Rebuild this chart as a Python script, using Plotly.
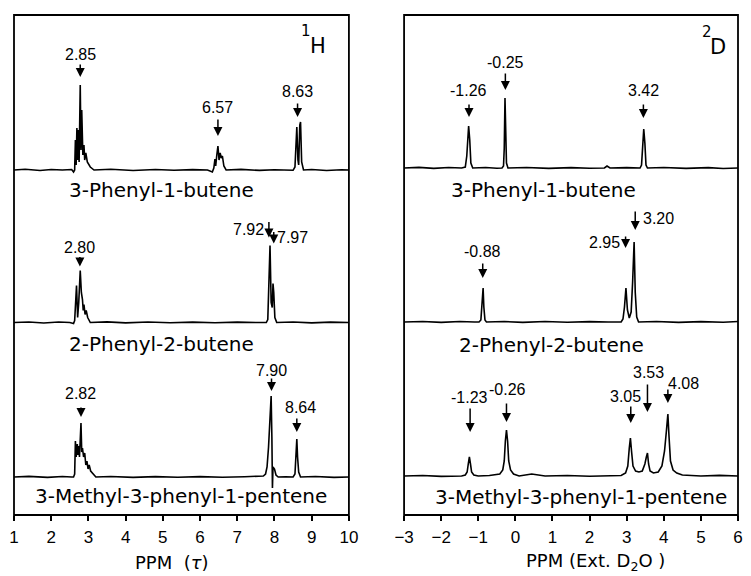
import plotly.graph_objects as go

# ---------------- data: spectra as (ppm, intensity) points ----------------
H1_PHENYL_BUTENE = [(1.0,0),(1.3,0.8),(1.7,-0.5),(2.0,0.5),(2.3,0),(2.55,0.5),(2.6,-2),(2.63,0),(2.65,30),(2.67,5),
    (2.69,42),(2.71,10),(2.73,40),(2.75,8),(2.78,85),(2.80,20),(2.82,60),(2.85,15),(2.88,25),(2.90,10),(2.93,17),
    (2.97,8),(3.05,3),(3.15,0),(3.6,0.8),(4.2,-0.5),(4.8,0.5),(5.3,-0.3),(5.8,0.4),(6.2,0),(6.33,-2),(6.37,2),
    (6.40,11),(6.42,4),(6.45,15),(6.48,24),(6.51,10),(6.54,17),(6.57,12),(6.60,14),(6.64,4),(6.70,0),(7.1,0.6),
    (7.6,-0.4),(8.0,0.3),(8.3,0),(8.5,-0.3),(8.55,3),(8.58,38),(8.60,43),(8.63,10),(8.65,5),(8.68,45),(8.70,48),
    (8.73,8),(8.78,0),(9.0,0.5),(9.4,-0.5),(9.8,0.3),(10.0,0)]
H1_PHENYL_2_BUTENE = [(1.0,0),(1.4,0.5),(1.8,-0.5),(2.2,0.5),(2.5,0),(2.6,-1),(2.63,2),(2.66,30),(2.68,37),(2.71,5),
    (2.74,20),(2.78,52),(2.81,30),(2.84,23),(2.86,12),(2.88,18),(2.91,8),(2.94,12),(2.98,5),(3.05,0),(3.5,0.6),
    (4.0,-0.4),(4.6,0.5),(5.2,-0.3),(5.8,0.4),(6.4,-0.3),(7.0,0.4),(7.5,0),(7.78,0),(7.82,3),(7.85,40),(7.88,77),
    (7.91,20),(7.94,15),(7.96,39),(7.98,30),(8.01,5),(8.06,0),(8.5,0.5),(9.0,-0.4),(9.5,0.4),(10.0,0)]
H1_METHYL_PENTENE = [(1.0,0),(1.4,0.6),(1.9,-0.4),(2.3,0.5),(2.55,0),(2.6,0),(2.63,3),(2.65,36),(2.67,20),(2.70,33),
    (2.72,22),(2.74,31),(2.76,20),(2.80,54),(2.82,25),(2.84,29),(2.87,20),(2.90,24),(2.93,12),(2.96,16),(2.99,8),
    (3.02,12),(3.06,6),(3.12,3),(3.2,0),(3.6,0.5),(4.2,-0.4),(4.8,0.4),(5.4,-0.3),(6.0,0.4),(6.6,-0.3),(7.2,0.3),
    (7.6,0.5),(7.7,1),(7.76,3),(7.80,10),(7.84,30),(7.88,60),(7.91,81),(7.93,40),(7.945,-11),(7.96,10),(8.0,8),
    (8.04,2),(8.1,0),(8.3,0.3),(8.5,0),(8.55,3),(8.58,20),(8.60,38),(8.62,20),(8.65,5),(8.7,0),(9.1,0.5),
    (9.6,-0.4),(10.0,0)]

D2_PHENYL_BUTENE = [(-3.0,0),(-2.6,0.6),(-2.2,-0.4),(-1.8,0.5),(-1.45,0),(-1.35,1),(-1.31,12),(-1.28,36),(-1.26,42),
    (-1.23,28),(-1.20,5),(-1.15,0),(-0.8,0.5),(-0.5,-0.3),(-0.36,0),(-0.32,2),(-0.30,20),(-0.28,70),(-0.26,40),
    (-0.24,5),(-0.20,0),(0.3,0.5),(0.9,-0.4),(1.5,0.4),(2.0,-0.3),(2.4,0),(2.47,2),(2.55,0),(3.0,0.4),(3.36,0),
    (3.40,3),(3.43,20),(3.46,39),(3.49,25),(3.52,3),(3.56,0),(4.0,0.5),(4.6,-0.4),(5.2,0.4),(5.6,-0.5),(6.0,0)]
D2_PHENYL_2_BUTENE = [(-3.0,0),(-2.5,0.5),(-2.0,-0.4),(-1.5,0.5),(-1.1,0),(-0.98,0),(-0.93,2),(-0.90,15),(-0.87,34),
    (-0.85,15),(-0.82,2),(-0.78,0),(-0.3,0.5),(0.2,-0.4),(0.8,0.5),(1.4,-0.3),(2.0,0.4),(2.5,0),(2.85,0),(2.90,3),
    (2.94,15),(2.98,34),(3.02,12),(3.07,4),(3.12,10),(3.16,40),(3.20,80),(3.23,30),(3.27,5),(3.32,0),(3.8,0.5),
    (4.4,-0.4),(5.0,0.4),(5.6,-0.3),(6.0,0.5)]
D2_METHYL_PENTENE = [(-3.0,0),(-2.5,0.5),(-2.0,-0.4),(-1.6,0.4),(-1.45,0),(-1.35,1),(-1.30,4),(-1.27,12),(-1.24,19),
    (-1.21,12),(-1.18,4),(-1.12,1),(-1.0,0),(-0.7,0.5),(-0.55,1),(-0.42,2),(-0.34,6),(-0.30,15),(-0.27,35),
    (-0.24,46),(-0.21,35),(-0.18,15),(-0.13,6),(-0.05,2),(0.1,0),(0.44,2),(0.8,0),(1.4,0.5),(2.0,-0.3),(2.5,0.4),
    (2.85,0.5),(2.97,3),(3.03,10),(3.07,28),(3.10,38),(3.13,25),(3.17,10),(3.24,5),(3.33,4),(3.42,5),(3.49,12),
    (3.53,19),(3.56,23),(3.59,12),(3.63,5),(3.72,3),(3.85,4),(3.95,10),(4.02,25),(4.07,45),(4.11,62),(4.14,40),
    (4.18,15),(4.25,6),(4.35,3),(4.5,1),(5.0,0),(5.5,0.6),(6.0,0)]

COMPOUNDS = ["3-Phenyl-1-butene", "2-Phenyl-2-butene", "3-Methyl-3-phenyl-1-pentene"]

# peak labels: (label, ppm the arrow points at)
H1_PEAKS = [[("2.85", 2.78), ("6.57", 6.48), ("8.63", 8.62)],
            [("2.80", 2.77), ("7.92", 7.85), ("7.97", 7.98)],
            [("2.82", 2.80), ("7.90", 7.92), ("8.64", 8.60)]]
D2_PEAKS = [[("-1.26", -1.25), ("-0.25", -0.27), ("3.42", 3.45)],
            [("-0.88", -0.88), ("2.95", 2.97), ("3.20", 3.23)],
            [("-1.23", -1.22), ("-0.26", -0.24), ("3.05", 3.11), ("3.53", 3.56), ("4.08", 4.11)]]

H1_TICKS = [1, 2, 3, 4, 5, 6, 7, 8, 9, 10]
D2_TICKS = [-3, -2, -1, 0, 1, 2, 3, 4, 5, 6]

# ---------------- layout geometry (positions, not data) ----------------
# arrow geometry per label: (tail height, tip height, text ppm, text height)
H1_ARROWS = [[(107, 93, 2.80, 116), (52, 34, 6.48, 63), (68, 53, 8.62, 79)],
             [(67, 56, 2.77, 75), (102, 85, 7.30, 93), (92, 79, 8.49, 85)],
             [(71, 60, 2.80, 84), (100, 86, 7.92, 107), (60, 45, 8.70, 70)]]
D2_ARROWS = [[(65, 51, -1.26, 78), (96, 78, -0.27, 106), (65, 50, 3.45, 78)],
             [(60, 44, -0.88, 71), (87, 74, 2.39, 80), (112, 92, 3.85, 104)],
             [(69, 44, -1.24, 79), (74, 54, -0.21, 87), (71, 53, 2.97, 80), (93, 64, 3.58, 104), (88, 73, 4.54, 93)]]
H1_NAME_POS = [(4.97, -20), (4.97, -21), (5.50, -19)]
D2_NAME_POS = [(0.77, -22), (0.98, -23), (1.78, -21)]

ROW_DOMAINS = [[0.62, 1.0], [0.31, 0.62], [0.0, 0.31]]
H1_YRANGES = [[-35, 155], [-37.5, 117.5], [-38, 117]]
D2_YRANGES = [[-37, 153], [-38, 117], [-39, 116]]
LEFT_DOM = [0.0, 0.46259]
RIGHT_DOM = [0.53878, 1.0]

NUM_FONT = dict(family="Liberation Sans, Arial, sans-serif", size=16, color="black")
NAME_FONT = dict(family="DejaVu Sans, sans-serif", size=20, color="black")
TITLE_FONT = dict(family="DejaVu Sans, sans-serif", size=18, color="black")

fig = go.Figure()
annotations = []

panels = [
    ("x", ["y", "y2", "y3"], [H1_PHENYL_BUTENE, H1_PHENYL_2_BUTENE, H1_METHYL_PENTENE], H1_PEAKS, H1_ARROWS, H1_NAME_POS),
    ("x2", ["y4", "y5", "y6"], [D2_PHENYL_BUTENE, D2_PHENYL_2_BUTENE, D2_METHYL_PENTENE], D2_PEAKS, D2_ARROWS, D2_NAME_POS),
]

for xa, yas, spectra, peaks, arrows, names in panels:
    for r in range(3):
        pts = spectra[r]
        fig.add_trace(go.Scatter(x=[p for p, _ in pts], y=[v for _, v in pts], mode="lines",
                                 line=dict(color="black", width=1.6), xaxis=xa, yaxis=yas[r],
                                 hoverinfo="skip", showlegend=False))
        for (lab, ppm), (tail, tip, tx, ty) in zip(peaks[r], arrows[r]):
            annotations.append(dict(x=ppm, y=tip, ax=ppm, ay=tail, xref=xa, yref=yas[r], axref=xa, ayref=yas[r],
                                    text="", showarrow=True, arrowhead=2, arrowsize=1.2, arrowwidth=1.5,
                                    arrowcolor="black", standoff=0, startstandoff=0))
            annotations.append(dict(x=tx, y=ty, xref=xa, yref=yas[r], text=lab, showarrow=False,
                                    font=NUM_FONT, xanchor="center", yanchor="middle"))
        nx, ny = names[r]
        annotations.append(dict(x=nx, y=ny, xref=xa, yref=yas[r], text=COMPOUNDS[r], showarrow=False,
                                font=NAME_FONT, xanchor="center", yanchor="middle"))

# nucleus labels
annotations += [
    dict(x=8.86, y=139, xref="x", yref="y", text="1", showarrow=False,
         font=dict(family="DejaVu Sans, sans-serif", size=15, color="black")),
    dict(x=9.18, y=124, xref="x", yref="y", text="H", showarrow=False,
         font=dict(family="DejaVu Sans, sans-serif", size=21, color="black")),
    dict(x=5.16, y=136, xref="x2", yref="y4", text="2", showarrow=False,
         font=dict(family="DejaVu Sans, sans-serif", size=15, color="black")),
    dict(x=5.45, y=121, xref="x2", yref="y4", text="D", showarrow=False,
         font=dict(family="DejaVu Sans, sans-serif", size=21, color="black")),
]
# axis titles
annotations += [
    dict(x=0.2177, y=-0.094, xref="paper", yref="paper", text="PPM  (<i>τ</i>)", showarrow=False,
         font=TITLE_FONT, xanchor="center", yanchor="middle"),
    dict(x=0.8027, y=-0.094, xref="paper", yref="paper", text="PPM (Ext. D<sub>2</sub>O )", showarrow=False,
         font=TITLE_FONT, xanchor="center", yanchor="middle"),
]

tick_common = dict(ticks="outside", ticklen=5, tickwidth=1.5, tickcolor="black", showgrid=False,
                   zeroline=False, showline=False, ticklabelstandoff=2,
                   tickfont=dict(family="Liberation Sans, Arial, sans-serif", size=17, color="black"))

layout = dict(
    width=751, height=576, margin=dict(l=12, r=4, t=15, b=61),
    paper_bgcolor="white", plot_bgcolor="white", showlegend=False,
    xaxis=dict(domain=LEFT_DOM, range=[1, 10], anchor="y3", tickvals=H1_TICKS, **tick_common),
    xaxis2=dict(domain=RIGHT_DOM, range=[-3, 6], anchor="y6", tickvals=D2_TICKS, **tick_common),
    annotations=annotations,
    shapes=[
        dict(type="rect", xref="paper", yref="paper", x0=LEFT_DOM[0], x1=LEFT_DOM[1], y0=0, y1=1,
             line=dict(color="black", width=1.8)),
        dict(type="rect", xref="paper", yref="paper", x0=RIGHT_DOM[0], x1=RIGHT_DOM[1], y0=0, y1=1,
             line=dict(color="black", width=1.8)),
    ],
)
for i, (dom, rng) in enumerate(zip(ROW_DOMAINS, H1_YRANGES)):
    key = "yaxis" if i == 0 else f"yaxis{i+1}"
    layout[key] = dict(domain=dom, range=rng, anchor="x", visible=False, fixedrange=True)
for i, (dom, rng) in enumerate(zip(ROW_DOMAINS, D2_YRANGES)):
    layout[f"yaxis{i+4}"] = dict(domain=dom, range=rng, anchor="x2", visible=False, fixedrange=True)

fig.update_layout(**layout)
fig.write_html("out.html")
